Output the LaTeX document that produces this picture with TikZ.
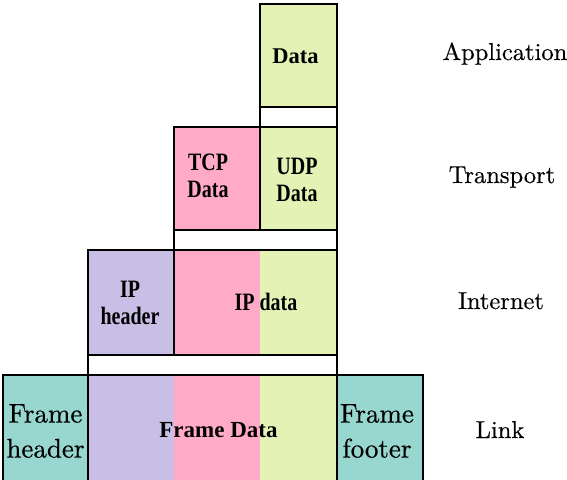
\documentclass[tikz,border=0pt]{standalone}
\usepackage{fontspec}
\newfontfamily\tnrc[FakeStretch=0.8]{Liberation Serif}
\newfontfamily\tnr{Liberation Serif}
\newfontfamily\lmr[FakeBold=0.4]{lmroman10-regular.otf}
\definecolor{gr}{RGB}{228,243,181}
\definecolor{pk}{RGB}{255,170,198}
\definecolor{lv}{RGB}{200,190,230}
\definecolor{tl}{RGB}{152,214,208}
\begin{document}
\begin{tikzpicture}[x=1pt,y=-1pt,
  cell/.style n args={2}{draw=black, line width=1.8pt, inner sep=0pt, minimum width=#1, minimum height=#2},
  blab/.style={inner sep=0pt, font=\tnr\bfseries\fontsize{22.5}{27}\selectfont},
  clab/.style={inner sep=0pt, align=center, font=\tnrc\bfseries\fontsize{25}{27}\selectfont},
  rlab/.style={inner sep=0pt, align=center, font=\lmr\fontsize{27}{35}\selectfont},
  layer/.style={inner sep=0pt, anchor=base, font=\lmr\fontsize{24.5}{29}\selectfont}]
\useasboundingbox (0,0) rectangle (567,479);
\clip (0,0) rectangle (567,479);
% Application
\node[cell={77}{103}, fill=gr] (appdata) at (298.5,55.5) {};
\node[cell={77}{20}, fill=white] (appgap) at (298.5,117) {};
% Transport
\node[cell={86}{103}, fill=pk] (tcp) at (217,178.5) {};
\node[cell={77}{103}, fill=gr] (udp) at (298.5,178.5) {};
\node[cell={163}{20}, fill=white] (tgap) at (255.5,240) {};
% Internet
\node[cell={86}{105}, fill=lv] (iphdr) at (131,302.5) {};
\fill[pk] (174,250) rectangle (260,355);
\fill[gr] (260,250) rectangle (337,355);
\node[cell={163}{105}] (ipdata) at (255.5,302.5) {};
\node[cell={249}{20}, fill=white] (igap) at (212.5,365) {};
% Link
\node[cell={85}{112}, fill=tl] (fhdr) at (45.5,431) {};
\fill[lv] (88,375) rectangle (174,487);
\fill[pk] (174,375) rectangle (260,487);
\fill[gr] (260,375) rectangle (337,487);
\node[cell={249}{112}] (fdata) at (212.5,431) {};
\node[cell={86}{112}, fill=tl] (ffoot) at (380,431) {};
% labels in boxes
\node[blab, anchor=base] (tdata) at (295.5,63) {Data};
\node[clab] (ttcp) at (208,176) {TCP\\Data};
\node[clab] (tudp) at (297,180) {UDP\\Data};
\node[clab] (tiph) at (130,303) {IP\\header};
\node[clab, anchor=base] (tipd) at (266,310) {IP data};
\node[blab, anchor=base, font=\tnr\bfseries\fontsize{23}{27}\selectfont] (tfd) at (218.5,437) {Frame Data};
\node[rlab] (tfh) at (45.5,431) {Frame\\header};
\node[rlab] (tff) at (377,431) {Frame\\footer};
% layer names
\node[layer] (lapp) at (505,60) {Application};
\node[layer] (ltr) at (502,183) {Transport};
\node[layer] (lin) at (501,309) {Internet};
\node[layer] (llk) at (500,438) {Link};
\end{tikzpicture}
\end{document}
